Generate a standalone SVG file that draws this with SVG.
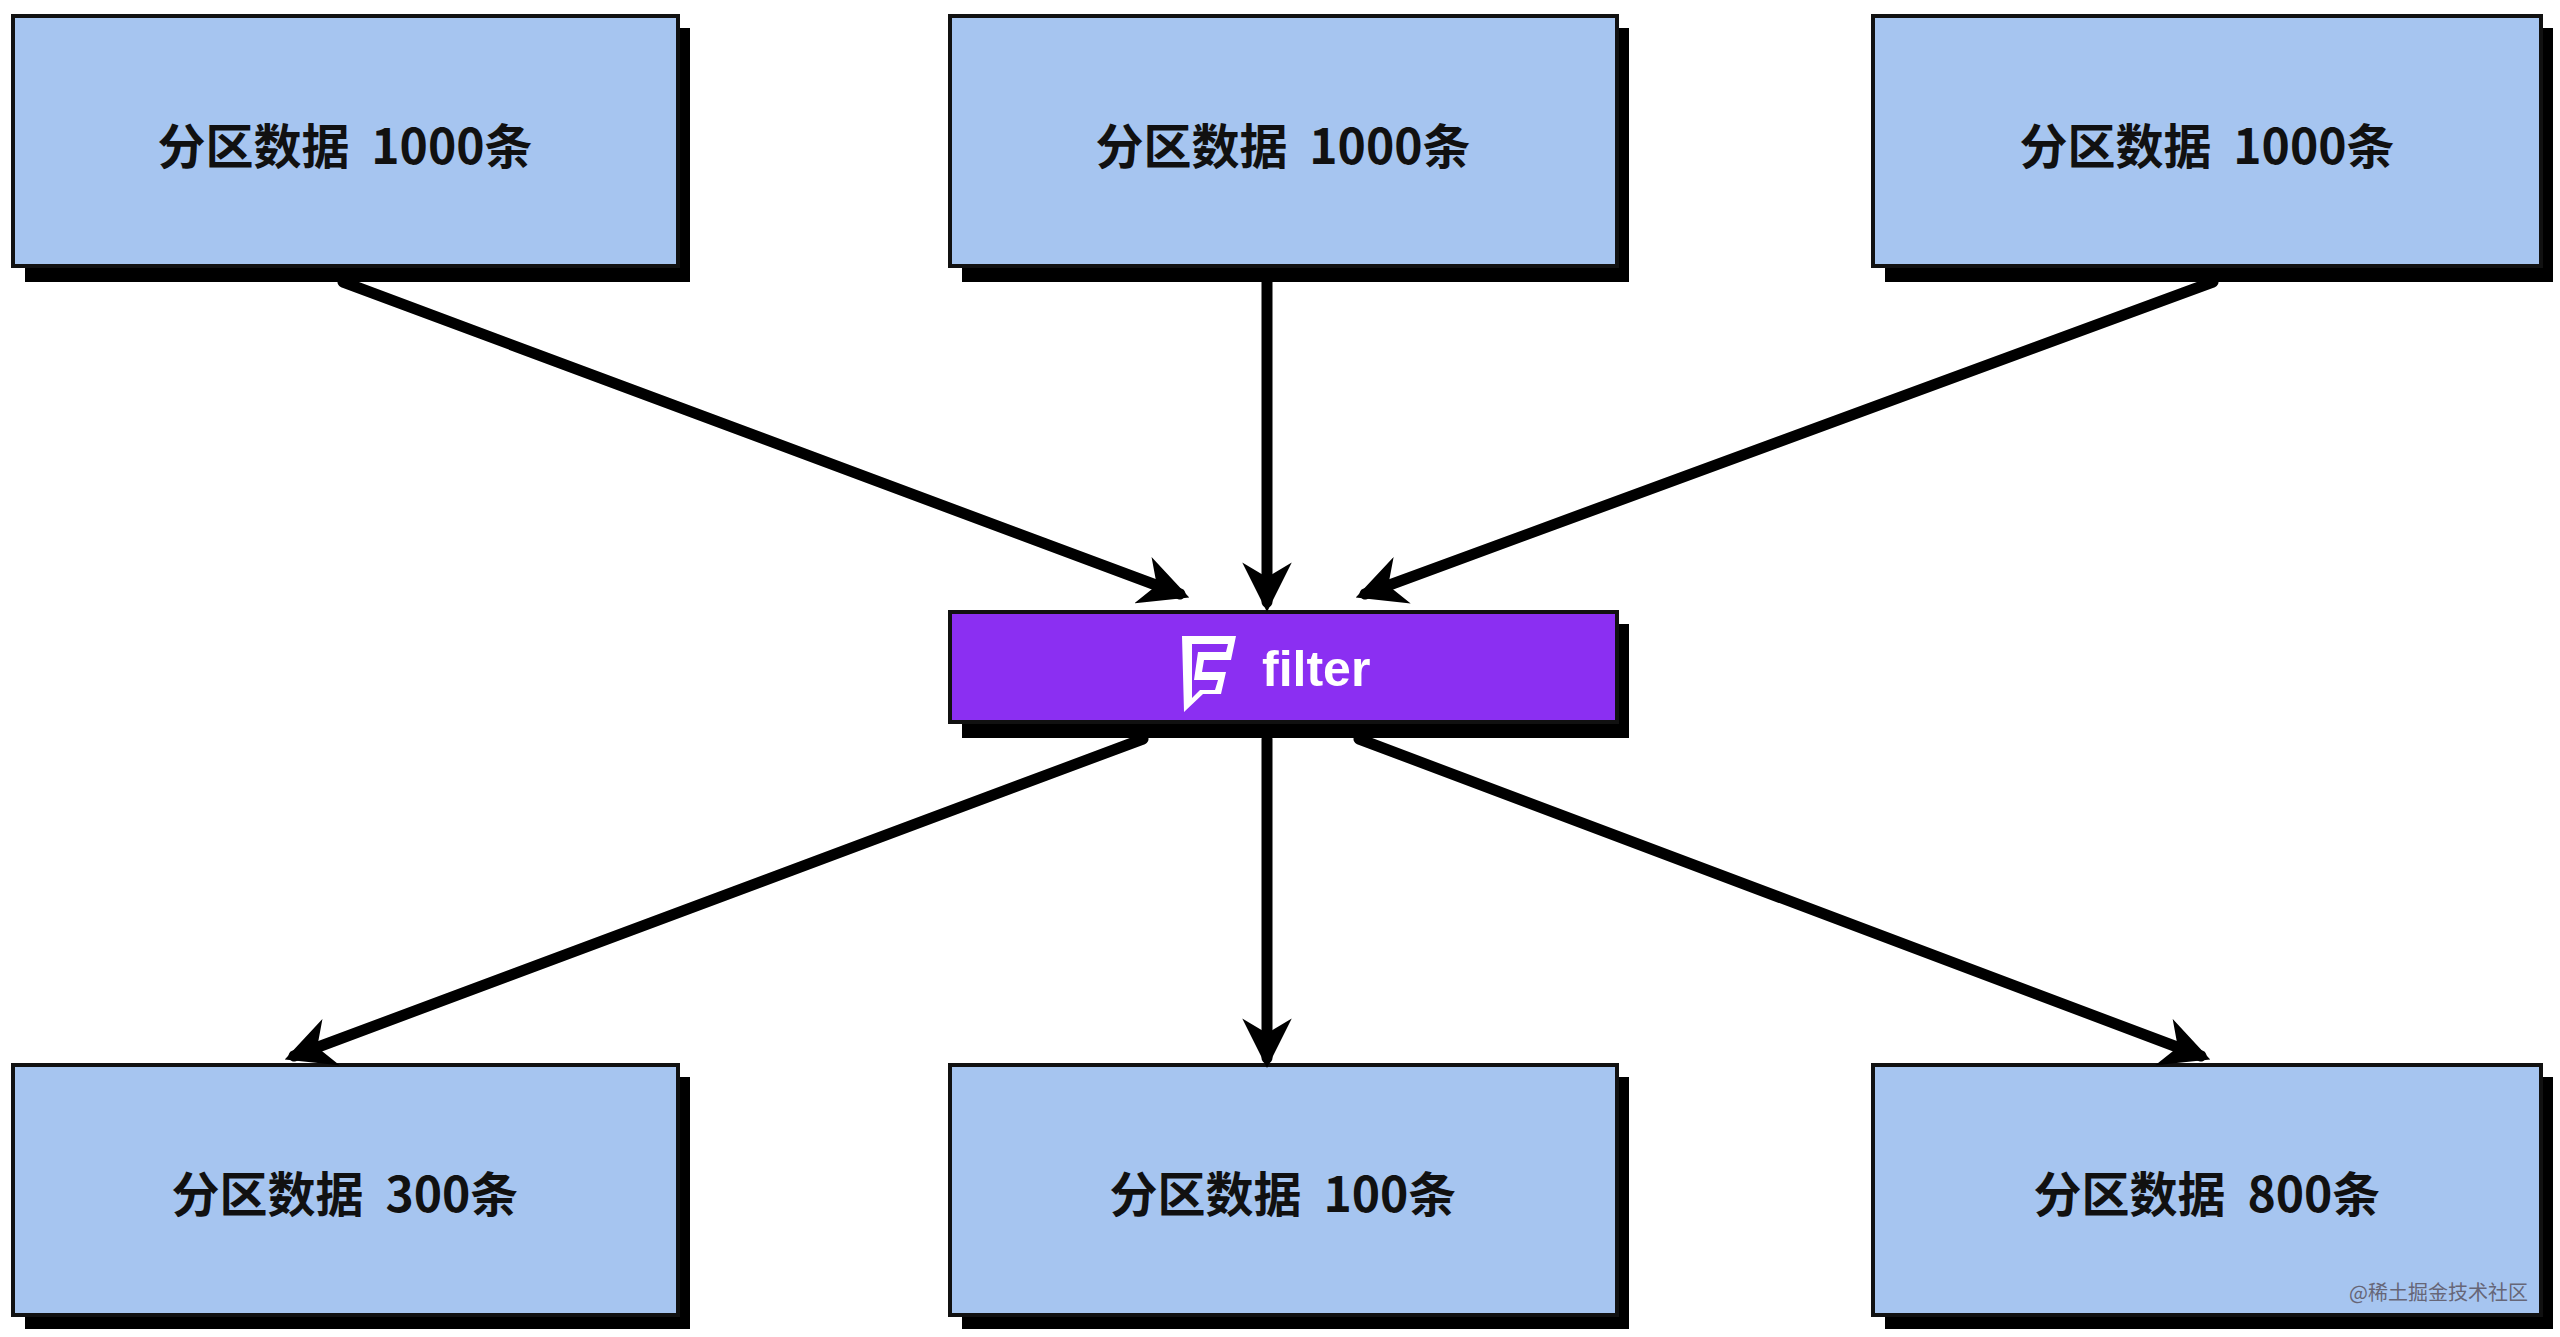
<svg xmlns="http://www.w3.org/2000/svg" width="2560" height="1337" viewBox="0 0 2560 1337">
<style>
.box{fill:#a6c5f0;stroke:#111;stroke-width:4}
.sh{fill:#000}
.lbl{font-family:"Noto Sans CJK SC","Liberation Sans",sans-serif;font-size:48px;font-weight:bold;fill:#111;text-anchor:middle;white-space:pre}
.ln{stroke:#000;stroke-width:11;fill:none;stroke-linecap:round}
</style>
<defs>
<marker id="ah" viewBox="0 0 10 10" refX="8" refY="5" markerWidth="4.5" markerHeight="4.5" orient="auto" markerUnits="strokeWidth">
<path d="M0,0 L10,5 L0,10 L3,5 Z" fill="#000"/>
</marker>
</defs>
<rect width="2560" height="1337" fill="#fff"/>
<g id="n1"><rect class="sh" x="25" y="28" width="665" height="254"/><rect class="box" x="13" y="16" width="665" height="250"/><text class="lbl" x="345" y="164" xml:space="preserve">分区数据  1000条</text></g>
<g id="n2"><rect class="sh" x="962" y="28" width="667" height="254"/><rect class="box" x="950" y="16" width="667" height="250"/><text class="lbl" x="1283" y="164" xml:space="preserve">分区数据  1000条</text></g>
<g id="n3"><rect class="sh" x="1885" y="28" width="668" height="254"/><rect class="box" x="1873" y="16" width="668" height="250"/><text class="lbl" x="2207" y="164" xml:space="preserve">分区数据  1000条</text></g>
<g id="filter"><rect class="sh" x="962" y="624" width="667" height="114"/><rect x="950" y="612" width="667" height="110" fill="#8b2ff2" stroke="#111" stroke-width="4"/>
<path d="M1182,636 L1236,636 L1231,660 L1204,660 L1202,672 L1226,672 L1221,694 L1203,694 L1184,712 Z M1192,644 L1192,698 L1200,690 L1215,690 L1218,680 L1194,680 L1198,652 L1226,652 L1228,644 Z" fill="#fff" fill-rule="evenodd"/>
<text x="1262" y="686" font-family="Liberation Sans,sans-serif" font-size="50" font-weight="bold" fill="#fff">filter</text></g>
<g id="n4"><rect class="sh" x="25" y="1077" width="665" height="252"/><rect class="box" x="13" y="1065" width="665" height="250"/><text class="lbl" x="345" y="1212" xml:space="preserve">分区数据  300条</text></g>
<g id="n5"><rect class="sh" x="962" y="1077" width="667" height="252"/><rect class="box" x="950" y="1065" width="667" height="250"/><text class="lbl" x="1283" y="1212" xml:space="preserve">分区数据  100条</text></g>
<g id="n6"><rect class="sh" x="1885" y="1077" width="668" height="252"/><rect class="box" x="1873" y="1065" width="668" height="250"/><text class="lbl" x="2207" y="1212" xml:space="preserve">分区数据  800条</text></g>
<g id="connectors">
<line class="ln" x1="343" y1="282" x2="1180" y2="594" marker-end="url(#ah)"/>
<line class="ln" x1="1267" y1="282" x2="1267" y2="602" marker-end="url(#ah)"/>
<line class="ln" x1="2213" y1="282" x2="1365" y2="594" marker-end="url(#ah)"/>
<line class="ln" x1="1143" y1="739" x2="294" y2="1056" marker-end="url(#ah)"/>
<line class="ln" x1="1267" y1="739" x2="1267" y2="1058" marker-end="url(#ah)"/>
<line class="ln" x1="1359" y1="739" x2="2201" y2="1056" marker-end="url(#ah)"/>
</g>
<text x="2528" y="1300" font-family="Noto Sans CJK SC,sans-serif" font-size="20" fill="#667" text-anchor="end">@稀土掘金技术社区</text>
</svg>
